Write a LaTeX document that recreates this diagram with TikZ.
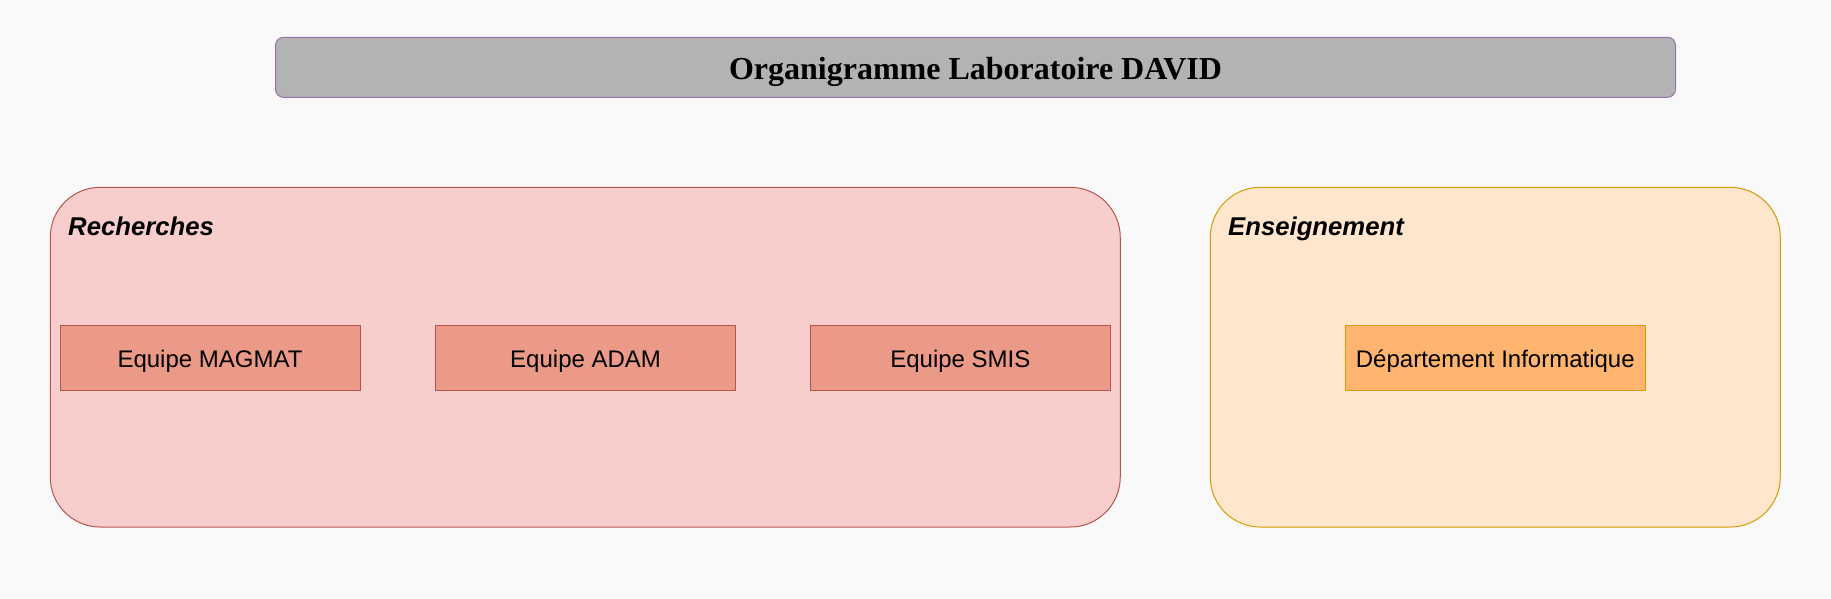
\documentclass[tikz,border=0pt]{standalone}
\usepackage{fontspec}
\setmainfont{Liberation Sans}
\newfontfamily\titlefont{Liberation Serif}
\definecolor{bgpage}{HTML}{F9F9F9}
\definecolor{titlefill}{HTML}{B3B3B3}
\definecolor{titlestroke}{HTML}{9673A6}
\definecolor{recfill}{HTML}{F8CECC}
\definecolor{recstroke}{HTML}{B85450}
\definecolor{teamfill}{HTML}{EA9A86}
\definecolor{ensfill}{HTML}{FFE6CC}
\definecolor{ensstroke}{HTML}{D79B00}
\definecolor{deptfill}{HTML}{FFB570}
\begin{document}
\begin{tikzpicture}[x=1pt,y=-1pt,
	grpbox/.style={rounded corners=50pt,line width=1pt,minimum height=339.7pt},
	teambox/.style={draw=recstroke,fill=teamfill,line width=1pt,minimum width=300pt,minimum height=65pt,text height=19.6pt,text depth=0pt,font=\fontsize{24}{28}\selectfont},
	grplabel/.style={anchor=base west,inner sep=0pt,font=\fontsize{25.7}{30}\selectfont\bfseries\itshape}]
	\fill[bgpage] (0,0) rectangle (1831,598);
	\node[draw=titlestroke,fill=titlefill,rounded corners=8pt,line width=1pt,minimum width=1400pt,minimum height=60pt,text height=24pt,text depth=0pt,font=\titlefont\fontsize{32}{38}\selectfont\bfseries] (titre) at (975.5,67.3) {Organigramme Laboratoire DAVID};
	\node[grpbox,draw=recstroke,fill=recfill,minimum width=1070pt] (rech) at (585.25,357.15) {};
	\node[grpbox,draw=ensstroke,fill=ensfill,minimum width=570pt] (ens) at (1495.3,357.15) {};
	\node[grplabel] (rechLbl) at (68,235) {Recherches};
	\node[grplabel] (ensLbl) at (1228,235) {Enseignement};
	\foreach \nom/\x/\txt in {magmat/210/Equipe MAGMAT,adam/585.6/Equipe ADAM,smis/960.4/Equipe SMIS}
		\node[teambox] (\nom) at (\x,357.5) {\txt};
	\node[teambox,draw=ensstroke,fill=deptfill] (dept) at (1495.3,357.5) {Département Informatique};
\end{tikzpicture}
\end{document}
